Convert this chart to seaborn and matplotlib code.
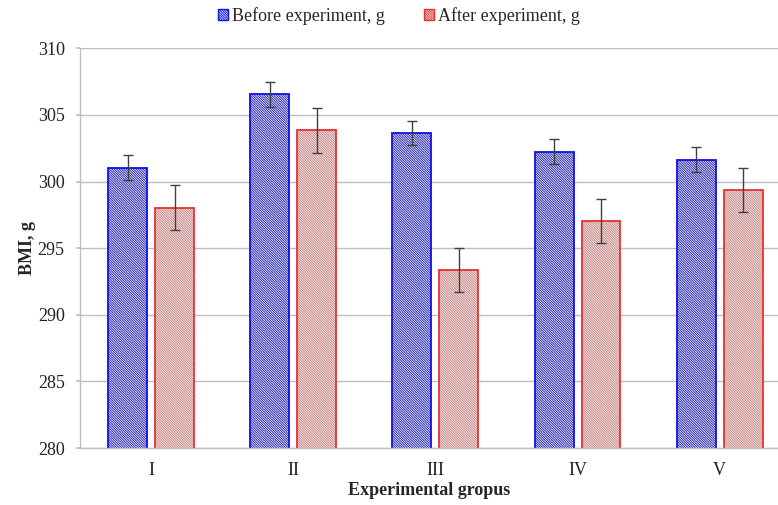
import matplotlib
matplotlib.use("Agg")
import matplotlib.pyplot as plt
from matplotlib.patches import Patch, Rectangle
import numpy as np
import pandas as pd
import seaborn as sns

# Data
groups = ["I", "II", "III", "IV", "V"]
series = ["Before experiment, g", "After experiment, g"]
before = [301.05, 306.55, 303.65, 302.25, 301.65]
after = [298.05, 303.85, 293.35, 297.05, 299.35]
before_err = [0.95, 0.95, 0.92, 0.95, 0.95]
after_err = [1.7, 1.68, 1.65, 1.63, 1.64]
y_ticks = [280, 285, 290, 295, 300, 305, 310]

edge_colors = ["#1010E8", "#E83030"]
hatch_colors = ["#2A2AB8", "#C88080"]
hatch = "\\" * 14

df = pd.DataFrame({
    "group": groups * 2,
    "series": [series[0]] * len(groups) + [series[1]] * len(groups),
    "value": before + after,
    "err": before_err + after_err,
})

sns.set_theme(style="white")
plt.rcParams["font.family"] = ["Liberation Serif", "DejaVu Serif"]
plt.rcParams["hatch.linewidth"] = 0.7

fig = plt.figure(figsize=(7.78, 5.05), dpi=100)
ax = fig.add_axes([80 / 778, 1 - 448 / 505, 1 - 80 / 778, (448 - 48.3) / 505])

sns.barplot(data=df, x="group", y="value", hue="series", order=groups,
            hue_order=series, width=0.66, gap=0.17, errorbar=None,
            palette=["white", "white"], ax=ax, legend=False)

# Restyle bars: hatched fill plus a solid outline, and error bars at bar centres
bar_containers = list(ax.containers)
for si, container in enumerate(bar_containers):
    sub = df[df["series"] == series[si]]
    errs = sub["err"].to_numpy()
    vals = sub["value"].to_numpy()
    xs = []
    for p in container.patches:
        p.set_facecolor("white")
        p.set_edgecolor(hatch_colors[si])
        p.set_hatch(hatch)
        p.set_linewidth(0)
        ax.add_patch(Rectangle(p.get_xy(), p.get_width(), p.get_height(),
                               fill=False, edgecolor=edge_colors[si],
                               linewidth=1.3, zorder=p.get_zorder() + 0.1))
        xs.append(p.get_x() + p.get_width() / 2)
    ax.errorbar(xs, vals, yerr=errs, fmt="none", ecolor="#404040",
                elinewidth=1.0, capsize=3.5, capthick=1.0, zorder=5)

ax.set_ylim(280, 310)
ax.set_xlim(-0.5, 4.41)
ax.set_yticks(y_ticks)
ax.yaxis.grid(True, color="#BEBEBE", linewidth=1.0)
ax.set_axisbelow(True)
for side in ["top", "right"]:
    ax.spines[side].set_visible(False)
for side in ["left", "bottom"]:
    ax.spines[side].set_color("#BEBEBE")
    ax.spines[side].set_linewidth(1.0)
ax.tick_params(axis="y", left=True, length=3, color="#BEBEBE", labelsize=13,
               pad=8, labelcolor="#222222")
ax.tick_params(axis="x", bottom=False, labelsize=13, pad=4, labelcolor="#222222")

ax.set_ylabel("BMI, g", fontsize=13, fontweight="bold", labelpad=1)
ax.set_xlabel("Experimental gropus", fontsize=13, fontweight="bold", labelpad=2)

handles = [Patch(facecolor="white", edgecolor=hatch_colors[i], hatch=hatch,
                 linewidth=0) for i in range(2)]
leg = fig.legend(handles, series, loc="center", bbox_to_anchor=(0.513, 0.968),
                 ncol=2, frameon=False, fontsize=13, handlelength=0.55,
                 handleheight=0.55, handletextpad=0.2, columnspacing=2.2)
for h, c in zip(leg.legend_handles, edge_colors):
    h.set_edgecolor(c)
    h.set_linewidth(1.0)

fig.savefig("out.png", dpi=100)
